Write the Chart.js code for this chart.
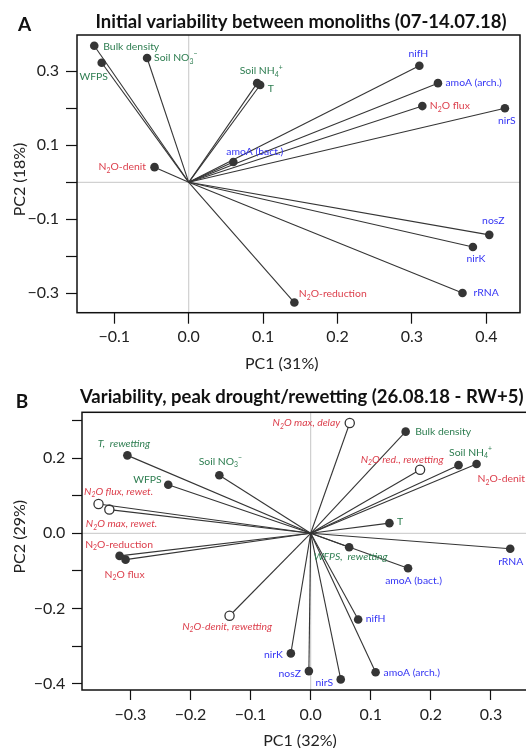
<!DOCTYPE html>
<html>
<head>
<meta charset="utf-8">
<script src="https://cdn.jsdelivr.net/npm/chart.js@4.4.0/dist/chart.umd.min.js"></script>
<style>
  html, body { margin: 0; padding: 0; background: #fff; overflow: hidden; }
  #wrap { position: relative; width: 526px; height: 748px; overflow: hidden; }
  canvas { position: absolute; left: 0; }
  #pcaA { top: 0; }
  #pcaB { top: 374px; }
</style>
</head>
<body>
<div id="wrap">
  <canvas id="pcaA" width="526" height="374"></canvas>
  <canvas id="pcaB" width="540" height="374"></canvas>
</div>
<script>
/* ============================================================
   PCA loading biplots, two sampling dates
   ============================================================ */

/* --- Data: panel A (07-14.07.18) --- */
// {_x} = subscript, {^x} = superscript
const varsA = ['Bulk density', 'WFPS', 'Soil NO{_3}{^−}', 'Soil NH{_4}{^+}', 'T', 'amoA (bact.)', 'N{_2}O-denit',
  'nifH', 'amoA (arch.)', 'N{_2}O flux', 'nirS', 'nosZ', 'nirK', 'rRNA', 'N{_2}O-reduction'];
const pc1A = [-0.127, -0.117, -0.056, 0.092, 0.096, 0.060, -0.046, 0.310, 0.335, 0.314, 0.425, 0.404, 0.382, 0.368, 0.142];
const pc2A = [0.369, 0.323, 0.336, 0.268, 0.263, 0.055, 0.041, 0.315, 0.268, 0.206, 0.200, -0.142, -0.175, -0.299, -0.325];
const groupA = ['env', 'env', 'env', 'env', 'env', 'gene', 'proc', 'gene', 'gene', 'proc', 'gene', 'gene', 'gene', 'gene', 'proc'];

const xTicksA = [-0.1, 0.0, 0.1, 0.2, 0.3, 0.4];
const yTicksA = [-0.3, -0.2, -0.1, 0.0, 0.1, 0.2, 0.3];
const xLabelsA = [-0.1, 0.0, 0.1, 0.2, 0.3, 0.4];
const yLabelsA = [-0.3, -0.1, 0.1, 0.3];

/* --- Data: panel B (26.08.18 - RW+5) --- */
const varsB = ['N{_2}O max, delay', 'Bulk density', 'N{_2}O red., rewetting', 'Soil NH{_4}{^+}', 'N{_2}O-denit', 'T',
  'T,  rewetting', 'Soil NO{_3}{^−}', 'WFPS', 'N{_2}O flux, rewet.', 'N{_2}O max, rewet.', 'N{_2}O-reduction',
  'N{_2}O flux', 'WFPS,  rewetting', 'amoA (bact.)', 'rRNA', 'N{_2}O-denit, rewetting', 'nifH', 'nirK', 'nosZ',
  'nirS', 'amoA (arch.)'];
const pc1B = [0.065, 0.158, 0.182, 0.246, 0.276, 0.131, -0.305, -0.152, -0.237, -0.353, -0.335, -0.318,
  -0.308, 0.064, 0.162, 0.332, -0.135, 0.079, -0.033, -0.003, 0.050, 0.108];
const pc2B = [0.293, 0.270, 0.169, 0.181, 0.184, 0.027, 0.207, 0.154, 0.129, 0.078, 0.063, -0.060,
  -0.070, -0.037, -0.093, -0.041, -0.219, -0.229, -0.319, -0.366, -0.388, -0.369];
const groupB = ['proc', 'env', 'proc', 'env', 'proc', 'env', 'env', 'env', 'env', 'proc', 'proc', 'proc',
  'proc', 'env', 'gene', 'gene', 'proc', 'gene', 'gene', 'gene', 'gene', 'gene'];
// variables describing the rewetting response (italic), and rewetting N2O pulses (open symbol)
const rewetB = [1, 0, 1, 0, 0, 0, 1, 0, 0, 1, 1, 0, 0, 1, 0, 0, 1, 0, 0, 0, 0, 0];
const pulseB = [1, 0, 1, 0, 0, 0, 0, 0, 0, 1, 1, 0, 0, 0, 0, 0, 1, 0, 0, 0, 0, 0];

const xTicksB = [-0.3, -0.2, -0.1, 0.0, 0.1, 0.2, 0.3];
const yTicksB = [-0.4, -0.3, -0.2, -0.1, 0.0, 0.1, 0.2, 0.3];
const xLabelsB = [-0.3, -0.2, -0.1, 0.0, 0.1, 0.2, 0.3];
const yLabelsB = [-0.4, -0.2, 0.0, 0.2];

/* --- Look --- */
const FONT = "Lato, 'Noto Sans', sans-serif";
const LABEL_SIZE = 10.4;
const GROUP_COLORS = { env: '#2d7d50', proc: '#dc3f4c', gene: '#3434f4' };
const VEC = '#353535';

/* --- Label placement: [align, dx, dy] relative to the arrow tip --- */
const placeA = [
  ['left', 9, 1], ['center', -8, 14], ['left', 7, 0], ['center', 4, -12], ['left', 7.5, 3.5],
  ['left', -7, -10], ['right', -8.5, 0], ['center', -1, -12.5], ['left', 7.5, -0.5], ['left', 7.5, 0],
  ['center', 2, 12], ['center', 4, -14], ['center', 3, 11.5], ['left', 11, -0.5], ['left', 4.5, -8.5]
];
const placeB = [
  ['right', -9.5, 0], ['left', 9.5, 0], ['center', -18, -10], ['center', 12, -12.5], ['left', 1, 15],
  ['left', 7.5, -1.5], ['center', -3.5, -11.5], ['center', 1, -13.5], ['right', -6.5, -5.5], ['left', -14.5, -12.5],
  ['left', -23.5, 14.5], ['center', -0.5, -11], ['center', -1, 14.5], ['center', 1.5, 9.5], ['center', 5.5, 12.5],
  ['center', 0.5, 13], ['center', -2.5, 11], ['left', 7.5, -0.5], ['right', -8, 1], ['right', -8, 3],
  ['right', -7.5, 3], ['left', 8, 0.5]
];

/* --- Rich text (sub/superscripts) --- */
function drawRich(ctx, str, x, y, align, size, italic, color) {
  const parts = [];
  str.split(/(\{[_^][^}]*\})/).forEach(s => {
    if (!s) return;
    const m = s.match(/^\{([_^])(.*)\}$/);
    parts.push(m ? { t: m[2], k: m[1] } : { t: s, k: '' });
  });
  const font = k => (italic ? 'italic ' : '') + (k ? size * 0.66 : size) + 'px ' + FONT;
  let w = 0;
  parts.forEach(p => { ctx.font = font(p.k); p.w = ctx.measureText(p.t).width; w += p.w; });
  let cx = align === 'left' ? x : align === 'right' ? x - w : x - w / 2;
  ctx.fillStyle = color;
  ctx.textAlign = 'left';
  ctx.textBaseline = 'middle';
  parts.forEach(p => {
    ctx.font = font(p.k);
    const dy = p.k === '_' ? size * 0.32 : p.k === '^' ? -size * 0.36 : 0;
    ctx.fillText(p.t, cx, y + dy);
    cx += p.w;
  });
}

function fmtTick(v) {
  const s = Math.abs(v) < 1e-9 ? '0.0' : v.toFixed(1);
  return s.replace('-', '\u2212');
}

/* --- Plugin: zero lines, labels, frame, titles --- */
const biplotDeco = {
  id: 'biplotDeco',
  beforeDatasetsDraw(chart, args, o) {
    const { ctx, chartArea: a, scales: { x, y } } = chart;
    const x0 = x.getPixelForValue(0), y0 = y.getPixelForValue(0);
    ctx.save();
    ctx.strokeStyle = '#c6c6c6';
    ctx.lineWidth = 1;
    ctx.beginPath();
    ctx.moveTo(x0, a.top); ctx.lineTo(x0, a.bottom);
    ctx.moveTo(a.left, y0); ctx.lineTo(a.right, y0);
    ctx.stroke();
    ctx.restore();
  },
  afterDatasetsDraw(chart, args, o) {
    const { ctx, scales: { x, y } } = chart;
    ctx.save();
    o.names.forEach((name, i) => {
      const px = x.getPixelForValue(o.pc1[i]);
      const py = y.getPixelForValue(o.pc2[i]);
      const [align, dx, dy] = o.place[i];
      drawRich(ctx, name, px + dx, py + dy, align, LABEL_SIZE, o.italic ? !!o.italic[i] : false, GROUP_COLORS[o.groups[i]]);
    });
    ctx.restore();
  },
  afterDraw(chart, args, o) {
    const { ctx, chartArea: a } = chart;
    ctx.save();
    // frame
    ctx.strokeStyle = '#111';
    ctx.lineWidth = 1.5;
    ctx.strokeRect(a.left, a.top, a.right - a.left, a.bottom - a.top);
    // panel letter + title
    ctx.fillStyle = '#111';
    ctx.textAlign = 'center';
    ctx.textBaseline = 'middle';
    ctx.font = 'bold 19px ' + FONT;
    ctx.fillText(o.letter, o.letterPos[0], o.letterPos[1]);
    ctx.font = 'bold 18.5px ' + FONT;
    ctx.fillText(o.title, o.titlePos[0], o.titlePos[1]);
    // axis titles
    ctx.fillStyle = '#222';
    ctx.font = '16px ' + FONT;
    ctx.fillText(o.xTitle, o.xTitlePos[0], o.xTitlePos[1]);
    ctx.translate(o.yTitlePos[0], o.yTitlePos[1]);
    ctx.rotate(-Math.PI / 2);
    ctx.fillText(o.yTitle, 0, 0);
    ctx.restore();
  }
};

/* --- Factory --- */
function vectorDatasets(pc1, pc2, pulse) {
  return pc1.map((v, i) => {
    const open = pulse ? !!pulse[i] : false;
    return {
      data: [{ x: 0, y: 0 }, { x: v, y: pc2[i] }],
      showLine: true,
      borderColor: VEC,
      borderWidth: 1.1,
      pointRadius: [0, open ? 4.6 : 4.3],
      pointBackgroundColor: open ? '#fff' : VEC,
      pointBorderColor: VEC,
      pointBorderWidth: open ? 1.3 : 0
    };
  });
}

function axis(pos, range, ticks, labels, g) {
  const keep = new Set(labels.map(v => Math.round(v * 10)));
  return {
    type: 'linear',
    position: pos,
    min: range[0],
    max: range[1],
    afterBuildTicks: s => { s.ticks = ticks.map(v => ({ value: v })); },
    afterFit: s => { if (pos === 'left') s.width = g.size; else s.height = g.size; },
    border: { display: false },
    grid: { drawOnChartArea: false, drawTicks: true, tickLength: g.tick, color: '#111', tickColor: '#111', tickWidth: 1.2 },
    ticks: {
      autoSkip: false,
      maxRotation: 0,
      padding: g.pad,
      color: '#222',
      font: { family: FONT, size: 16 },
      callback: v => keep.has(Math.round(v * 10)) ? fmtTick(v) : ''
    }
  };
}

function createBiplot(id, cfg) {
  return new Chart(document.getElementById(id), {
    type: 'scatter',
    data: { datasets: vectorDatasets(cfg.pc1, cfg.pc2, cfg.pulse) },
    options: {
      responsive: false,
      animation: false,
      devicePixelRatio: 1,
      layout: { padding: cfg.padding },
      plugins: {
        legend: { display: false },
        tooltip: { enabled: false },
        biplotDeco: cfg.deco
      },
      scales: {
        x: axis('bottom', cfg.xRange, cfg.xTicks, cfg.xLabels, cfg.xAxis),
        y: axis('left', cfg.yRange, cfg.yTicks, cfg.yLabels, cfg.yAxis)
      }
    },
    plugins: [biplotDeco]
  });
}

/* --- Init --- */
createBiplot('pcaA', {
  pc1: pc1A, pc2: pc2A,
  xRange: [-0.1502, 0.4453], yRange: [-0.3524, 0.3981],
  xTicks: xTicksA, yTicks: yTicksA, xLabels: xLabelsA, yLabels: yLabelsA,
  padding: { top: 35, right: 6, left: 0, bottom: 0 },
  xAxis: { size: 61.3, tick: 11, pad: 4 },
  yAxis: { size: 77, tick: 11, pad: 7 },
  deco: {
    names: varsA, pc1: pc1A, pc2: pc2A, groups: groupA, place: placeA,
    letter: 'A', letterPos: [24.5, 25],
    title: 'Initial variability between monoliths (07-14.07.18)', titlePos: [301, 21.7],
    xTitle: 'PC1 (31%)', xTitlePos: [281.7, 364],
    yTitle: 'PC2 (18%)', yTitlePos: [20, 179.5]
  }
});

createBiplot('pcaB', {
  pc1: pc1B, pc2: pc2B, pulse: pulseB,
  xRange: [-0.3805, 0.3649], yRange: [-0.4162, 0.3214],
  xTicks: xTicksB, yTicks: yTicksB, xLabels: xLabelsB, yLabels: yLabelsB,
  padding: { top: 38.3, right: 10, left: 0, bottom: 0 },
  xAxis: { size: 58, tick: 10, pad: 5.4 },
  yAxis: { size: 82, tick: 10, pad: 6.7 },
  deco: {
    names: varsB, pc1: pc1B, pc2: pc2B, groups: groupB, place: placeB, italic: rewetB,
    letter: 'B', letterPos: [22, 27.7],
    title: 'Variability, peak drought/rewetting (26.08.18 - RW+5)', titlePos: [301.7, 22.7],
    xTitle: 'PC1 (32%)', xTitlePos: [300, 366.7],
    yTitle: 'PC2 (29%)', yTitlePos: [20, 162.7]
  }
});
</script>
</body>
</html>
